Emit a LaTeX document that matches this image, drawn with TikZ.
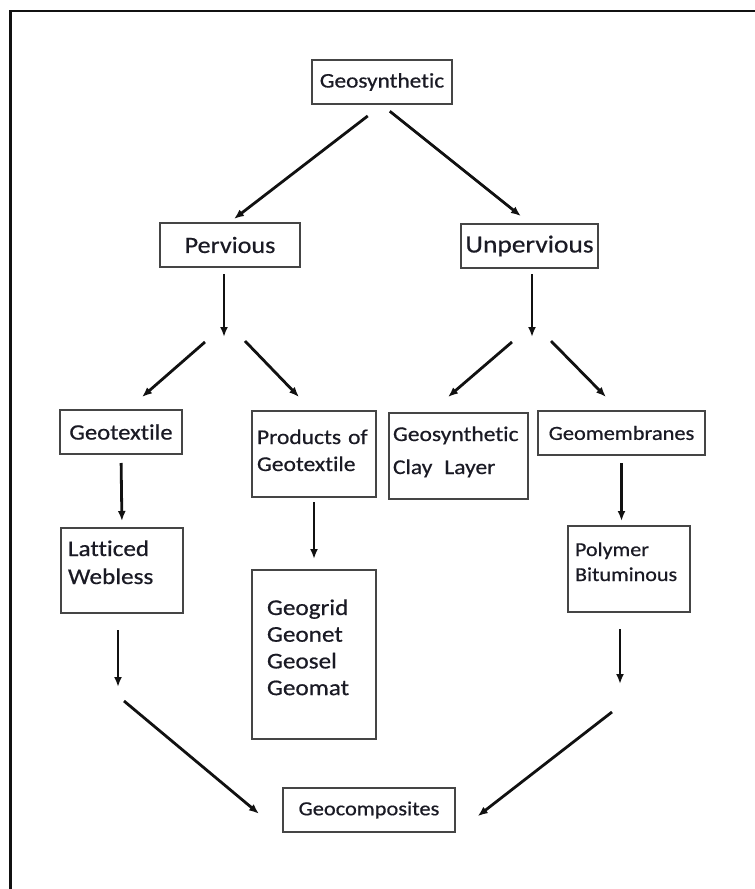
\documentclass[tikz,border=0pt]{standalone}
\usepackage{fontspec}
\setmainfont{Carlito}[FakeStretch=1.12,FakeBold=0.6,Ligatures=NoCommon]
\usetikzlibrary{arrows.meta}
\definecolor{pen}{HTML}{111111}
\definecolor{rim}{HTML}{454545}
\definecolor{txt}{HTML}{1A1A24}
\newcommand{\fsz}[2]{\fontsize{#1pt}{#2pt}\selectfont}
\tikzset{
  cls/.style={draw=rim,line width=2pt,text=txt,inner sep=0pt,align=center},
  clsl/.style={cls,anchor=north west,align=left},
  lnk/.style={-{Latex[length=10pt,width=8pt]},draw=pen,line width=2.8pt},
  frm/.style={draw=pen,line width=2.6pt},
}

\begin{document}
\begin{tikzpicture}[x=1pt,y=-1pt]
\useasboundingbox (0,0) rectangle (755,889);
\draw[frm] (755,11) -- (10.5,11) -- (10.5,889);
% first two levels
\node[cls,minimum width=140pt,minimum height=44pt,font=\fsz{20.8}{25}] (geo) at (382,82) {Geosynthetic};
\node[cls,minimum width=140pt,minimum height=44pt,font=\fsz{23.3}{28}] (perv) at (230,245) {Pervious};
\node[cls,minimum width=137pt,minimum height=44pt,font=\fsz{24.5}{29}] (unperv) at (529.5,246) {Unpervious};
% product families
\node[cls,minimum width=122pt,minimum height=44pt,font=\fsz{22}{26}] (gtex) at (121,432) {Geotextile};
\node[clsl,inner xsep=5pt,text width=114pt,text height=33pt,text depth=53pt,font=\fsz{21}{27}] (prod) at (251,410) {Products of\\Geotextile};
\node[clsl,inner xsep=4pt,text width=131pt,text height=28pt,text depth=58pt,font=\fsz{21}{33}] (gcl) at (388,412) {Geosynthetic\\Clay\hspace{12pt}Layer};
\node[cls,minimum width=167pt,minimum height=44pt,font=\fsz{20}{24}] (gmem) at (621.5,433) {Geomembranes};
\node[clsl,inner xsep=7pt,text width=108pt,text height=28pt,text depth=57pt,font=\fsz{22.5}{28}] (latt) at (60,527) {Latticed\\Webless};
\node[clsl,inner xsep=15pt,text width=94pt,text height=45pt,text depth=124pt,font=\fsz{22.5}{26.7}] (grid) at (251,569) {Geogrid\\Geonet\\Geosel\\Geomat};
\node[clsl,inner xsep=7pt,text width=108pt,text height=30pt,text depth=56pt,font=\fsz{19.7}{25}] (poly) at (567,525) {Polymer\\Bituminous};
\node[cls,minimum width=172pt,minimum height=44pt,font=\fsz{20}{24}] (gcomp) at (369,810) {Geocomposites};
% loose arrow ends
\coordinate (pSplit) at (224,337);
\coordinate (uSplit) at (532,337);
\coordinate (tP1) at (205,342); \coordinate (hP1) at (142,397);
\coordinate (tP2) at (245,341); \coordinate (hP2) at (299,397);
\coordinate (tU1) at (512,342); \coordinate (hU1) at (448,397);
\coordinate (tU2) at (551,341); \coordinate (hU2) at (606,397);
\coordinate (lTip) at (118,687); \coordinate (lTail) at (124,701);
\coordinate (rTip) at (620,684); \coordinate (rTail) at (612,712);
% arrows
\draw[lnk,shorten <=18pt,shorten >=5pt] (geo.south) -- (perv.north);
\draw[lnk,shorten <=10pt,shorten >=11pt] (geo.south) -- (unperv.north);
\draw[lnk,shorten <=6pt] (perv.south -| pSplit) -- (pSplit);
\draw[lnk,shorten <=5pt] (unperv.south -| uSplit) -- (uSplit);
\draw[lnk] (tP1) -- (hP1); \draw[lnk] (tP2) -- (hP2);
\draw[lnk] (tU1) -- (hU1); \draw[lnk] (tU2) -- (hU2);
\draw[lnk,shorten <=8pt,shorten >=6pt] (gtex.south) -- (latt.north);
\draw[lnk,shorten <=4pt,shorten >=10pt] (prod.south) -- (grid.north);
\draw[lnk,shorten <=7pt,shorten >=4pt] (gmem.south) -- (gmem.south |- poly.north);
\draw[lnk,shorten <=16pt] (latt.south -| lTip) -- (lTip);
\draw[lnk,shorten <=16pt] (poly.south -| rTip) -- (rTip);
\draw[lnk,shorten >=30pt] (lTail) -- (gcomp.south west);
\draw[lnk,shorten >=27.5pt] (rTail) -- (gcomp.south east);
\end{tikzpicture}
\end{document}
